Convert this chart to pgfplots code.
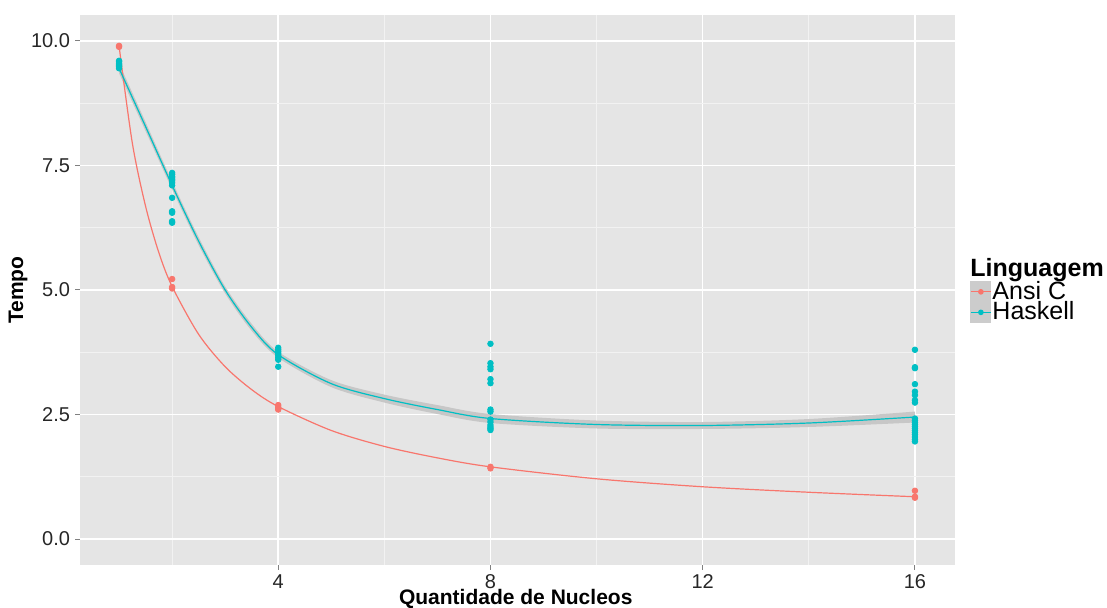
\documentclass[border=0pt]{standalone}
\usepackage{pgfplots}
\pgfplotsset{compat=1.18}
\usepgfplotslibrary{fillbetween}
\usepackage{fontspec}
\setmainfont{Liberation Sans}
\definecolor{cC}{HTML}{F8766D}
\definecolor{cH}{HTML}{00BFC4}
\definecolor{panel}{HTML}{E5E5E5}
\definecolor{minorg}{HTML}{F2F2F2}
\definecolor{band}{HTML}{C7C7C7}
\begin{document}
\begin{tikzpicture}
\begin{axis}[
  at={(40pt,21.5pt)}, anchor=south west,
  scale only axis, width=437.5pt, height=275pt,
  xmin=0.264, xmax=16.755, ymin=-0.52, ymax=10.52,
  axis background/.style={fill=panel},
  axis line style={draw=none},
  clip mode=individual,
  tick pos=left,
  xtick={4,8,12,16}, xticklabels={4,8,12,16},
  minor xtick={2,6,10,14},
  ytick={0,2.5,5,7.5,10}, yticklabels={0.0,2.5,5.0,7.5,10.0},
  minor ytick={1.25,3.75,6.25,8.75},
  grid=both,
  major grid style={white, line width=0.75pt},
  minor grid style={minorg, line width=0.4pt},
  tick align=outside, major tick length=2.5pt, minor tick length=0pt,
  tick style={black!50, line width=0.5pt},
  ticklabel style={font=\fontsize{10}{12}\selectfont, text=black!85},
  xticklabel style={yshift=1.2pt},
  yticklabel style={xshift=1pt},
  xlabel={\textbf{Quantidade de Nucleos}},
  ylabel={\textbf{Tempo}},
  xlabel style={font=\fontsize{10.5}{12}\selectfont, at={(axis description cs:0.498,-0.0625)}, anchor=center},
  ylabel style={font=\fontsize{10.5}{12}\selectfont, at={(axis description cs:-0.0709,0.5)}, anchor=center},
  legend style={at={(rel axis cs:1.017,0.478)}, anchor=west, draw=none, fill=none,
    font=\fontsize{12.5}{13}\selectfont, row sep=-1.3pt, inner sep=0pt,
    nodes={inner sep=0.5pt}},
  legend cell align=left,
  legend image code/.code={
    \fill[black!20] (0pt,-5pt) rectangle (10pt,5pt);
    \draw[#1] (0pt,0pt) -- (10pt,0pt);
    \fill[#1] (5pt,0pt) circle (1.1pt);
  },
]
% confidence band for Haskell smooth
\addplot[name path=hu, draw=none, smooth, forget plot] coordinates {
 (1,9.55) (1.5,8.37) (2,7.18) (2.5,6.06) (3,5.07) (3.5,4.32) (4,3.76) (5,3.19) (6,2.90) (7,2.69) (8,2.51) (10,2.38) (12,2.35) (14,2.41) (16,2.56)};
\addplot[name path=hl, draw=none, smooth, forget plot] coordinates {
 (1,9.35) (1.5,8.19) (2,7.02) (2.5,5.90) (3,4.93) (3.5,4.18) (4,3.64) (5,3.05) (6,2.74) (7,2.51) (8,2.33) (10,2.22) (12,2.21) (14,2.25) (16,2.34)};
\addplot[band, forget plot] fill between[of=hu and hl];
% smooth curves
\addplot[cC, line width=0.6pt, smooth, forget plot] coordinates {
 (1,9.9) (1.25,7.95) (1.5,6.68) (1.75,5.75) (2,5.07) (2.5,4.11) (3,3.46) (3.5,3.0) (4,2.66) (5,2.18) (6,1.86) (7,1.63) (8,1.45) (10,1.21) (12,1.05) (14,0.94) (16,0.85)};
\addplot[cH, line width=0.6pt, smooth, forget plot] coordinates {
 (1,9.45) (1.5,8.28) (2,7.1) (2.5,5.98) (3,5.0) (3.5,4.25) (4,3.7) (5,3.12) (6,2.82) (7,2.6) (8,2.42) (10,2.3) (12,2.28) (14,2.33) (16,2.45)};
% points
\addplot[only marks, mark=*, mark size=1.4pt, cC, forget plot] coordinates {
 (1,9.9) (1,9.88)
 (2,5.22) (2,5.06) (2,5.03)
 (4,2.69) (4,2.65) (4,2.62) (4,2.6)
 (8,1.45) (8,1.42)
 (16,0.97) (16,0.85) (16,0.83)};
\addplot[only marks, mark=*, mark size=1.4pt, cH, forget plot] coordinates {
 (1,9.45) (1,9.48) (1,9.5) (1,9.52) (1,9.55) (1,9.58) (1,9.6)
 (2,7.35) (2,7.32) (2,7.28) (2,7.25) (2,7.22) (2,7.19) (2,7.15) (2,7.1) (2,6.85) (2,6.58) (2,6.55) (2,6.38) (2,6.35)
 (4,3.84) (4,3.8) (4,3.76) (4,3.72) (4,3.68) (4,3.64) (4,3.6) (4,3.46)
 (8,3.92) (8,3.53) (8,3.46) (8,3.41) (8,3.21) (8,3.13) (8,2.6) (8,2.56) (8,2.4) (8,2.35) (8,2.29) (8,2.25) (8,2.22) (8,2.19)
 (16,3.8) (16,3.45) (16,3.43) (16,3.11) (16,2.96) (16,2.89) (16,2.79) (16,2.74) (16,2.42) (16,2.38) (16,2.34) (16,2.3) (16,2.26) (16,2.22) (16,2.18) (16,2.14) (16,2.1) (16,2.05) (16,2.0) (16,1.96)};
\addlegendimage{cC, line width=0.6pt}
\addlegendentry{Ansi C}
\addlegendimage{cH, line width=0.6pt}
\addlegendentry{Haskell}
\end{axis}
\node[anchor=west, inner sep=0pt, font=\fontsize{12.5}{13}\selectfont\bfseries] at (485pt,169pt) {Linguagem};
\pgfresetboundingbox
\path[use as bounding box] (0,0) rectangle (553.5pt,304pt);
\end{tikzpicture}
\end{document}
